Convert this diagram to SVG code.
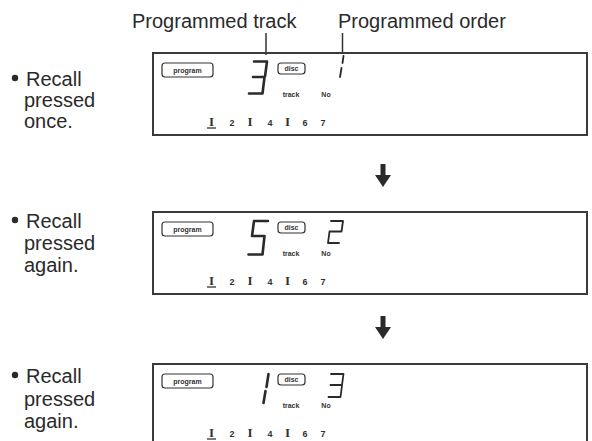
<svg xmlns="http://www.w3.org/2000/svg" width="592" height="441" viewBox="0 0 592 441">
<style>
.lbl{font-family:"Liberation Sans",Arial,sans-serif;font-size:20px;fill:#2a2a2a}
.box{fill:none;stroke:#3a3a3a;stroke-width:2}
.tag{fill:none;stroke:#333;stroke-width:1.2}
.tiny{font-family:"Liberation Sans",Arial,sans-serif;font-size:7px;fill:#333;font-weight:bold}
.seg{fill:none;stroke:#2a2a2a;stroke-width:2.6;stroke-linecap:round;stroke-linejoin:round}
.segt{fill:none;stroke:#2a2a2a;stroke-width:1.8;stroke-linecap:round;stroke-linejoin:round}
.num{font-family:"Liberation Sans",Arial,sans-serif;font-size:9px;font-weight:bold;fill:#333}
.mark{font-family:"Liberation Serif",serif;font-size:13px;font-weight:bold;fill:#333}
.lead{stroke:#333;stroke-width:1.5;fill:none}
</style>
<defs>
<g id="common">
<rect class="box" x="153" y="53" width="434" height="82"/>
<rect class="tag" x="162" y="63" width="51" height="14" rx="3"/>
<text class="tiny" x="187.5" y="72.5" text-anchor="middle" font-weight="normal">program</text>
<rect class="tag" x="278" y="63" width="27" height="11" rx="3"/>
<text class="tiny" x="291.5" y="71" text-anchor="middle" font-size="6px">disc</text>
<text class="tiny" x="291" y="97" text-anchor="middle" font-size="5.5px">track</text>
<text class="tiny" x="326" y="97" text-anchor="middle" font-size="5.5px">No</text>
<text class="mark" x="211.5" y="126" text-anchor="middle">I</text>
<line x1="207" y1="128" x2="216" y2="128" stroke="#333" stroke-width="1.3"/>
<text class="num" x="232" y="126" text-anchor="middle">2</text>
<text class="mark" x="250" y="126" text-anchor="middle">I</text>
<text class="num" x="270" y="126" text-anchor="middle">4</text>
<text class="mark" x="287.5" y="126" text-anchor="middle">I</text>
<text class="num" x="305" y="126" text-anchor="middle">6</text>
<text class="num" x="323" y="126" text-anchor="middle">7</text>
</g>
</defs>

<g id="labels">
<text class="lbl" x="132" y="28" font-size="21">Programmed track</text>
<text class="lbl" x="338" y="28" font-size="21">Programmed order</text>
</g>

<g id="connectors">
<line class="lead" x1="266" y1="33" x2="266" y2="55"/>
<line class="lead" x1="342.5" y1="33" x2="342.5" y2="53"/>
<path d="M383 164 V177" stroke="#2a2a2a" stroke-width="5" fill="none"/>
<path d="M375 175 H391 L383 187 Z" fill="#2a2a2a"/>
<path d="M383 316 V329" stroke="#2a2a2a" stroke-width="5" fill="none"/>
<path d="M375 327 H391 L383 339 Z" fill="#2a2a2a"/>
</g>

<g id="step1">
<circle cx="15" cy="78" r="3.2" fill="#2a2a2a"/>
<text class="lbl" x="26" y="86">Recall</text>
<text class="lbl" x="24" y="107">pressed</text>
<text class="lbl" x="24" y="128">once.</text>
<use href="#common"/>
<path class="seg" d="M254 61.5 H267 L265 76.5 M253 77 H264.5 L262.5 93.5 H249"/>
<path class="segt" d="M343.5 56 L342.5 63 M341.5 68 L340 77"/>
</g>

<g id="step2">
<circle cx="15" cy="220" r="3.2" fill="#2a2a2a"/>
<text class="lbl" x="26" y="228">Recall</text>
<text class="lbl" x="24" y="250">pressed</text>
<text class="lbl" x="24" y="272">again.</text>
<use href="#common" transform="translate(0,159)"/>
<path class="seg" d="M268 221 H254 L252 236 H264.5 L262.5 254.5 H248.5"/>
<path class="segt" d="M331 221 H343 L341.5 231.5 H329.5 L328 243 H339"/>
</g>

<g id="step3">
<circle cx="15" cy="375" r="3.2" fill="#2a2a2a"/>
<text class="lbl" x="26" y="383">Recall</text>
<text class="lbl" x="24" y="406">pressed</text>
<text class="lbl" x="24" y="428">again.</text>
<use href="#common" transform="translate(0,311)"/>
<path class="seg" d="M268.5 374 L266.5 387 M265.5 391 L263.5 403"/>
<path class="segt" d="M331 374 H343.5 L342 385 H330.5 M342 385.5 L340.5 397 H328.5"/>
</g>
</svg>
